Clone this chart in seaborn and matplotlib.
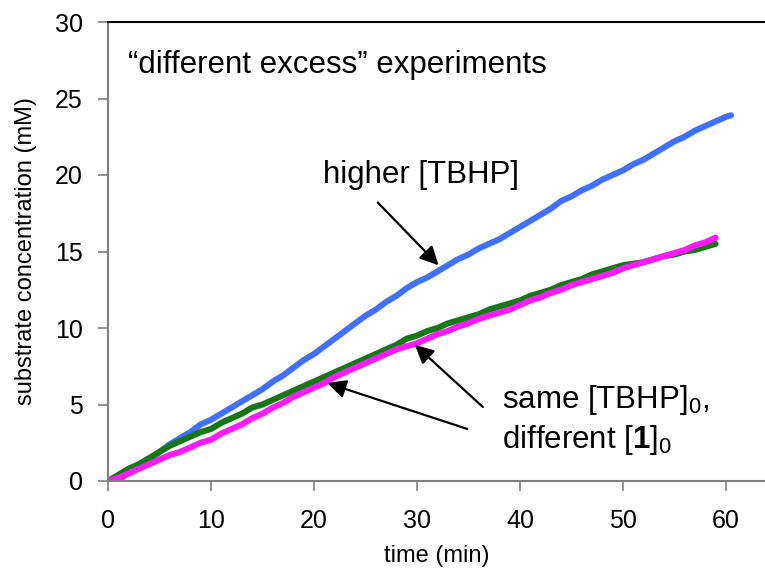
import matplotlib
matplotlib.use("Agg")
import matplotlib.pyplot as plt
import seaborn as sns
import pandas as pd

# ---- data ----
t_blue = [0, 1, 2, 3, 4, 5, 6, 7, 8, 9, 10, 11, 12, 13, 14, 15, 16, 17, 18, 19, 20,
          21, 22, 23, 24, 25, 26, 27, 28, 29, 30, 31, 32, 33, 34, 35, 36, 37, 38, 39, 40,
          41, 42, 43, 44, 45, 46, 47, 48, 49, 50, 51, 52, 53, 54, 55, 56, 57, 58, 59, 60, 60.5]
y_blue = [0.0, 0.1, 0.5, 1.0, 1.4, 1.9, 2.4, 2.8, 3.2, 3.7, 4.0, 4.4, 4.8, 5.2, 5.6, 6.0,
          6.5, 6.9, 7.4, 7.9, 8.3, 8.8, 9.3, 9.8, 10.3, 10.8, 11.2, 11.7, 12.1, 12.6, 13.0,
          13.3, 13.7, 14.1, 14.5, 14.8, 15.2, 15.5, 15.8, 16.2, 16.6, 17.0, 17.4, 17.8, 18.3,
          18.6, 19.0, 19.3, 19.7, 20.0, 20.3, 20.7, 21.0, 21.4, 21.8, 22.2, 22.5, 22.9, 23.2,
          23.5, 23.8, 23.9]

t_green = list(range(0, 60))
y_green = [0.0, 0.4, 0.8, 1.1, 1.5, 1.9, 2.3, 2.6, 2.9, 3.2, 3.4, 3.8, 4.1, 4.4, 4.8, 5.0,
           5.3, 5.6, 5.9, 6.2, 6.5, 6.8, 7.1, 7.4, 7.7, 8.0, 8.3, 8.6, 8.9, 9.3, 9.5, 9.8,
           10.0, 10.3, 10.5, 10.7, 10.9, 11.2, 11.4, 11.6, 11.8, 12.1, 12.3, 12.5, 12.8, 13.0,
           13.2, 13.5, 13.7, 13.9, 14.1, 14.2, 14.3, 14.5, 14.7, 14.8, 15.0, 15.1, 15.3, 15.5]

t_magenta = list(range(0, 60))
y_magenta = [0.0, 0.2, 0.5, 0.8, 1.1, 1.4, 1.7, 1.9, 2.2, 2.5, 2.7, 3.1, 3.4, 3.7, 4.1, 4.4,
             4.8, 5.1, 5.5, 5.8, 6.1, 6.4, 6.8, 7.1, 7.4, 7.7, 8.0, 8.3, 8.6, 8.8, 9.0, 9.3,
             9.6, 9.8, 10.1, 10.3, 10.6, 10.8, 11.0, 11.2, 11.5, 11.8, 12.0, 12.3, 12.5, 12.8,
             13.0, 13.2, 13.4, 13.6, 13.9, 14.1, 14.3, 14.5, 14.7, 14.9, 15.1, 15.4, 15.6, 15.9]

x_ticks = [0, 10, 20, 30, 40, 50, 60]
y_ticks = [0, 5, 10, 15, 20, 25, 30]

# ---- style ----
sns.set_style("white")
plt.rcParams['font.family'] = ['Liberation Sans', 'DejaVu Sans']
plt.rcParams['mathtext.fontset'] = 'custom'
plt.rcParams['mathtext.rm'] = 'Liberation Sans'
plt.rcParams['mathtext.it'] = 'Liberation Sans:italic'
plt.rcParams['mathtext.bf'] = 'Liberation Sans:bold'
plt.rcParams['text.color'] = 'black'
plt.rcParams['axes.labelcolor'] = 'black'
plt.rcParams['xtick.color'] = 'black'
plt.rcParams['ytick.color'] = 'black'

fig = plt.figure(figsize=(7.65, 5.70), dpi=100)
ax = fig.add_axes([108 / 765, 1 - 481 / 570, 1 - 108 / 765, (481 - 22) / 570])

df_b = pd.DataFrame({"t": t_blue, "c": y_blue})
df_g = pd.DataFrame({"t": t_green, "c": y_green})
df_m = pd.DataFrame({"t": t_magenta, "c": y_magenta})

lw = 4.4
sns.lineplot(data=df_b, x="t", y="c", ax=ax, color="#4170FF", lw=lw, estimator=None,
             solid_capstyle="round")
sns.lineplot(data=df_g, x="t", y="c", ax=ax, color="#157815", lw=lw, estimator=None,
             solid_capstyle="round")
sns.lineplot(data=df_m, x="t", y="c", ax=ax, color="#FF1AFF", lw=lw, estimator=None,
             solid_capstyle="round")

ax.set_xlim(0, 63.8)
ax.set_ylim(0, 30)
ax.set_xticks(x_ticks)
ax.set_yticks(y_ticks)
ax.tick_params(axis='both', direction='out', length=7, width=1.2, color='#808080',
               labelsize=18, labelcolor='black')
ax.tick_params(axis='x', bottom=True, pad=13)
ax.tick_params(axis='y', left=True, pad=11)

for s in ['left', 'bottom']:
    ax.spines[s].set_color('#808080')
    ax.spines[s].set_linewidth(1.5)
ax.spines['top'].set_color('black')
ax.spines['top'].set_linewidth(1.5)
ax.spines['right'].set_visible(False)

ax.set_xlabel("time (min)", fontsize=17, labelpad=9, color='black')
ax.set_ylabel("substrate concentration (mM)", fontsize=17, labelpad=13, color='black')

ax.text(1.94, 27.2, "\u201cdifferent excess\u201d experiments", fontsize=22.5,
        ha='left', va='center')
ax.text(20.9, 20.0, "higher [TBHP]", fontsize=22.5, ha='left', va='center')
ax.text(38.3, 5.3, r"same [TBHP]$_0$,", fontsize=22.5, ha='left', va='center')
ax.text(38.3, 2.7, r"different [$\mathbf{1}$]$_0$", fontsize=22.5, ha='left', va='center')

arrow = dict(arrowstyle='-|>', color='black', lw=1.6, mutation_scale=28,
             shrinkA=0, shrinkB=0)
ax.annotate("", xy=(32.1, 14.1), xytext=(26.2, 18.2), arrowprops=arrow)
ax.annotate("", xy=(29.8, 8.9), xytext=(36.4, 4.84), arrowprops=arrow)
ax.annotate("", xy=(21.3, 6.4), xytext=(34.9, 3.4), arrowprops=arrow)

fig.savefig("out.png", dpi=100)
